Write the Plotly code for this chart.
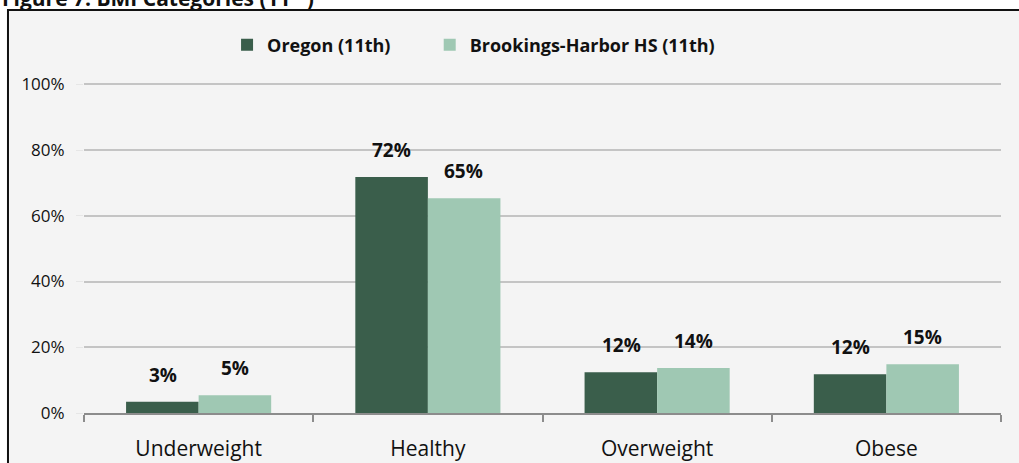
import plotly.graph_objects as go

# ----------------------------------------
# Data
# ----------------------------------------

categories = ["Underweight", "Healthy", "Overweight", "Obese"]

oregon_name = "Oregon (11th)"
oregon_values = [3.4, 71.8, 12.4, 11.8]

brookings_name = "Brookings-Harbor HS (11th)"
brookings_values = [5.4, 65.3, 13.7, 14.8]

y_ticks = [0, 20, 40, 60, 80, 100]
y_tick_labels = ["0%", "20%", "40%", "60%", "80%", "100%"]

title_text = "Figure 7: BMI Categories (11<sup>th</sup>)"

FONT = "Open Sans, Noto Sans, sans-serif"
DARK = "#3a5e4b"
LIGHT = "#9fc8b3"

# ----------------------------------------
# Figure
# ----------------------------------------

fig = go.Figure()

fig.add_trace(go.Bar(
    x=categories,
    y=oregon_values,
    name=oregon_name,
    legend="legend",
    marker=dict(color=DARK, line=dict(width=0))
))

fig.add_trace(go.Bar(
    x=categories,
    y=brookings_values,
    name=brookings_name,
    legend="legend2",
    marker=dict(color=LIGHT, line=dict(width=0))
))

# value labels above bars
for values, shift in [(oregon_values, -36), (brookings_values, 36)]:
    for cat, val in zip(categories, values):
        fig.add_annotation(
            x=cat,
            y=val,
            text="<b>%d%%</b>" % round(val),
            showarrow=False,
            xshift=shift,
            yshift=12,
            yanchor="bottom",
            font=dict(family=FONT, size=19, color="#111111")
        )

# cropped title at the top edge
fig.add_annotation(
    xref="paper",
    yref="paper",
    x=-0.0916,
    y=1.21,
    xanchor="left",
    yanchor="bottom",
    text="<b>" + title_text + "</b>",
    showarrow=False,
    font=dict(family=FONT, size=21, color="#111111")
)

# chart frame
fig.add_shape(
    type="rect",
    xref="paper",
    yref="paper",
    x0=-0.0829,
    x1=1.2,
    y0=-0.4,
    y1=1.2212,
    fillcolor="#f4f4f4",
    line=dict(color="#111111", width=2),
    layer="below"
)

legend_style = dict(
    orientation="h",
    y=1.115,
    xanchor="left",
    yanchor="middle",
    bgcolor="rgba(0,0,0,0)",
    font=dict(family=FONT, size=18, color="#111111", weight="bold"),
    itemwidth=30
)

fig.update_layout(
    width=1019,
    height=463,
    margin=dict(l=84, r=18, t=83, b=50),
    paper_bgcolor="white",
    plot_bgcolor="rgba(0,0,0,0)",
    barmode="group",
    bargap=0.367,
    bargroupgap=0,
    font=dict(family=FONT, color="#111111"),
    showlegend=True,
    legend=dict(x=0.156, **legend_style),
    legend2=dict(x=0.377, **legend_style),
    xaxis=dict(
        automargin=False,
        showline=True,
        linecolor="#8c8c8c",
        linewidth=2,
        ticks="outside",
        tickson="boundaries",
        ticklen=7,
        tickwidth=2,
        tickcolor="#8c8c8c",
        tickfont=dict(family=FONT, size=21, color="#111111"),
        ticklabelstandoff=16,
        showgrid=False
    ),
    yaxis=dict(
        automargin=False,
        range=[0, 100.4],
        tickvals=y_ticks,
        ticktext=y_tick_labels,
        showgrid=True,
        gridcolor="#c4c4c4",
        gridwidth=2,
        zeroline=False,
        ticks="outside",
        ticklen=7,
        tickcolor="#e6e6e6",
        tickfont=dict(family=FONT, size=17, color="#111111"),
        ticklabelstandoff=8
    )
)

fig.write_html(
    "out.html",
    config={"displayModeBar": False},
    post_script="document.body.style.margin='0';document.body.style.overflow='hidden';"
)
